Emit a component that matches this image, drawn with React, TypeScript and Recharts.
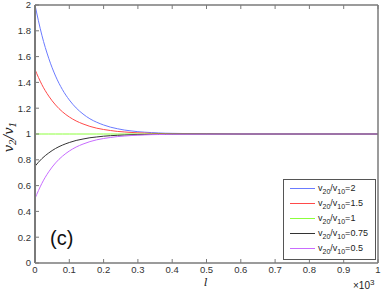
import React from 'react';
import { LineChart, Line, XAxis, YAxis } from 'recharts';

// l values (in units of 10^3)
const lValues = [
  0, 0.02, 0.04, 0.06, 0.08, 0.1, 0.12, 0.14, 0.16, 0.18, 0.2, 0.22, 0.24, 0.26, 0.28, 0.3,
  0.32, 0.34, 0.36, 0.38, 0.4, 0.5, 0.6, 0.7, 0.8, 0.9, 1,
];

const ratio2 = [
  2, 1.766, 1.587, 1.449, 1.344, 1.264, 1.202, 1.155, 1.118, 1.091, 1.07, 1.053, 1.041, 1.031,
  1.024, 1.018, 1.014, 1.011, 1.008, 1.006, 1.005, 1.001, 1, 1, 1, 1, 1,
];
const ratio15 = [
  1.5, 1.383, 1.294, 1.225, 1.172, 1.132, 1.101, 1.078, 1.059, 1.045, 1.035, 1.027, 1.02, 1.016,
  1.012, 1.009, 1.007, 1.005, 1.004, 1.003, 1.002, 1.001, 1, 1, 1, 1, 1,
];
const ratio1 = [
  1, 1, 1, 1, 1, 1, 1, 1, 1, 1, 1, 1, 1, 1, 1, 1, 1, 1, 1, 1, 1, 1, 1, 1, 1, 1, 1,
];
const ratio075 = [
  0.75, 0.809, 0.853, 0.888, 0.914, 0.934, 0.95, 0.961, 0.971, 0.977, 0.983, 0.987, 0.99, 0.992,
  0.994, 0.995, 0.996, 0.997, 0.998, 0.998, 0.999, 1, 1, 1, 1, 1, 1,
];
const ratio05 = [
  0.5, 0.617, 0.707, 0.776, 0.828, 0.868, 0.899, 0.922, 0.941, 0.955, 0.965, 0.973, 0.98, 0.984,
  0.988, 0.991, 0.993, 0.995, 0.996, 0.997, 0.998, 0.999, 1, 1, 1, 1, 1,
];

const seriesKeys = ['r2', 'r15', 'r1', 'r075', 'r05'];
const seriesLabels = ['2', '1.5', '1', '0.75', '0.5'];
const seriesColors = ['#6b7bff', '#ff4a4a', '#8cff3c', '#333333', '#c86cff'];

const xTicks = [0, 0.1, 0.2, 0.3, 0.4, 0.5, 0.6, 0.7, 0.8, 0.9, 1];
const yTicks = [0, 0.2, 0.4, 0.6, 0.8, 1, 1.2, 1.4, 1.6, 1.8, 2];

const data = lValues.map((l, i) => ({
  l,
  r2: ratio2[i],
  r15: ratio15[i],
  r1: ratio1[i],
  r075: ratio075[i],
  r05: ratio05[i],
}));

const axisColor = '#7a7a7a';
const sans = 'Liberation Sans, Arial, sans-serif';
const tickFont = { fontSize: 9.5, fill: '#333', fontFamily: sans };

const LegendBox = () => (
  <div
    style={{
      position: 'absolute',
      left: 283,
      top: 179,
      width: 93,
      height: 81,
      border: '1px solid #555',
      background: '#fff',
      boxSizing: 'border-box',
      paddingTop: 1,
      fontFamily: sans,
      fontSize: 9,
      color: '#222',
    }}
  >
    {seriesLabels.map((lab, i) => (
      <div key={lab} style={{ display: 'flex', alignItems: 'center', height: 15 }}>
        <div style={{ width: 25, height: 0, borderTop: `1px solid ${seriesColors[i]}`, marginLeft: 6, marginRight: 3 }} />
        <span style={{ whiteSpace: 'nowrap' }}>
          v<sub style={{ fontSize: 7 }}>20</sub>/v<sub style={{ fontSize: 7 }}>10</sub>={lab}
        </span>
      </div>
    ))}
  </div>
);

export default function App() {
  return (
    <div style={{ position: 'absolute', left: 0, top: 0, width: 388, height: 292, background: '#fff' }}>
      <LineChart width={388} height={292} data={data} margin={{ top: 4, right: 9, bottom: 0, left: 0 }}>
        <XAxis
          dataKey="l"
          type="number"
          domain={[0, 1]}
          ticks={xTicks}
          tickFormatter={(v: number) => String(v)}
          tick={tickFont}
          tickSize={-4}
          tickMargin={7}
          height={29}
          axisLine={{ stroke: axisColor, strokeWidth: 1.5 }}
          tickLine={{ stroke: axisColor }}
        />
        <XAxis
          xAxisId="top"
          orientation="top"
          dataKey="l"
          type="number"
          domain={[0, 1]}
          ticks={xTicks}
          tickFormatter={() => ''}
          tickSize={-4}
          height={1}
          axisLine={{ stroke: axisColor, strokeWidth: 1.5 }}
          tickLine={{ stroke: axisColor }}
        />
        <YAxis
          type="number"
          domain={[0, 2]}
          ticks={yTicks}
          tickFormatter={(v: number) => String(v)}
          tick={tickFont}
          tickSize={-4}
          tickMargin={8}
          width={35}
          axisLine={{ stroke: axisColor, strokeWidth: 2 }}
          tickLine={{ stroke: axisColor }}
        />
        <YAxis
          yAxisId="right"
          orientation="right"
          type="number"
          domain={[0, 2]}
          ticks={yTicks}
          tickFormatter={() => ''}
          tickSize={-4}
          width={1}
          axisLine={{ stroke: axisColor, strokeWidth: 1.5 }}
          tickLine={{ stroke: axisColor }}
        />
        {seriesKeys.map((k, i) => (
          <Line
            key={k}
            dataKey={k}
            name={seriesLabels[i]}
            stroke={seriesColors[i]}
            strokeWidth={1}
            type="monotone"
            dot={false}
            isAnimationActive={false}
          />
        ))}
      </LineChart>
      <LegendBox />
      <div
        style={{
          position: 'absolute',
          left: 50,
          top: 228,
          fontSize: 20,
          lineHeight: 1,
          fontFamily: sans,
          color: '#111',
        }}
      >
        (c)
      </div>
      <div
        style={{
          position: 'absolute',
          left: 204,
          top: 277,
          fontSize: 11,
          lineHeight: 1,
          fontStyle: 'italic',
          fontFamily: 'DejaVu Serif, serif',
          color: '#222',
        }}
      >
        l
      </div>
      <div
        style={{
          position: 'absolute',
          left: 353,
          top: 279,
          fontSize: 10,
          lineHeight: 1,
          fontFamily: sans,
          color: '#222',
          whiteSpace: 'nowrap',
        }}
      >
        ×10<sup style={{ fontSize: 8, verticalAlign: 4 }}>3</sup>
      </div>
      <div
        style={{
          position: 'absolute',
          left: 10,
          top: 137,
          transform: 'translate(-50%, -50%) rotate(-90deg)',
          fontSize: 13,
          lineHeight: 1,
          fontStyle: 'italic',
          fontFamily: 'DejaVu Serif, serif',
          color: '#222',
          whiteSpace: 'nowrap',
        }}
      >
        v<sub style={{ fontSize: 9 }}>2</sub>/v<sub style={{ fontSize: 9 }}>1</sub>
      </div>
    </div>
  );
}
